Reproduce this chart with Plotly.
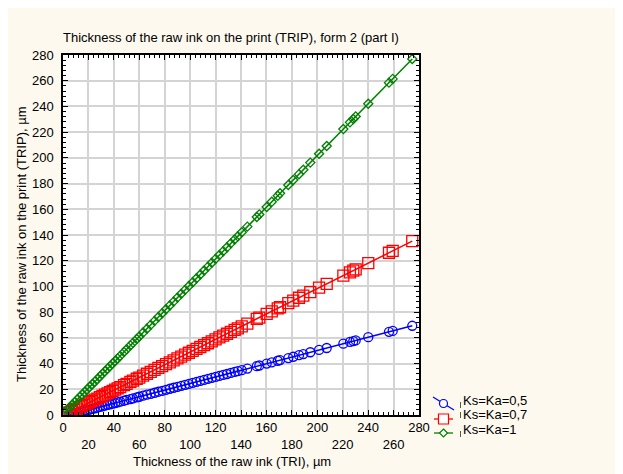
import plotly.graph_objects as go

title_text = "Thickness of the raw ink on the print (TRIP), form 2 (part I)"
x_title = "Thickness of the raw ink (TRI), µm"
y_title = "Thickness of the raw ink on the print (TRIP), µm"

series_names = ["Ks=Ka=0,5", "Ks=Ka=0,7", "Ks=Ka=1"]

tri = [1, 3, 5, 7, 9, 11, 13, 15, 17, 19, 21, 23, 25, 27, 29, 31, 33, 35, 37, 39,
       41, 43, 45, 48, 50, 53, 55, 58, 60, 63, 66, 69, 72, 75, 78, 81, 84, 87, 90, 93,
       96, 99, 102, 105, 108, 111, 114, 117, 120, 123, 126, 129, 132, 135, 137.5,
       140.6, 145.0, 152.4, 154.4, 160.2, 164.2, 168.9, 170.7, 177.2, 181.1, 185.6,
       189.0, 194.5, 201.4, 207.4, 220.5, 225.7, 228.3, 230.2, 240.1, 256.4, 259.3, 274.7]

trip_05 = [None, None, 0.1, 0.6, 1.1, 1.6, 2.1, 2.7, 3.2, 3.7, 4.2, 4.7, 5.2, 5.7, 6.3,
           6.8, 7.3, 7.8, 8.3, 8.8, 9.3, 9.8, 10.4, 11.1, 11.7, 12.4, 12.9, 13.7, 14.2,
           15.0, 15.8, 16.5, 17.3, 18.1, 18.8, 19.6, 20.4, 21.2, 21.9, 22.7, 23.5, 24.2,
           25.0, 25.8, 26.6, 27.3, 28.1, 28.9, 29.6, 30.4, 31.2, 31.9, 32.7, 33.5, 34.1,
           34.9, 36.1, 38.0, 38.5, 40.0, 41.0, 42.2, 42.7, 44.3, 45.3, 46.5, 47.4, 48.8,
           50.6, 52.1, 55.5, 56.8, 57.5, 58.0, 60.5, 64.7, 65.4, 69.4]

trip_07 = [None, 1.0, 2.0, 3.0, 4.0, 4.9, 5.9, 6.9, 7.9, 8.9, 9.9, 10.9, 11.9, 12.8, 13.8,
           14.8, 15.8, 16.8, 17.8, 18.8, 19.8, 20.7, 21.7, 23.2, 24.2, 25.7, 26.7, 28.2,
           29.1, 30.6, 32.1, 33.6, 35.1, 36.6, 38.0, 39.5, 41.0, 42.5, 44.0, 45.4, 46.9,
           48.4, 49.9, 51.4, 52.9, 54.3, 55.8, 57.3, 58.8, 60.3, 61.7, 63.2, 64.7, 66.2,
           67.4, 69.0, 71.1, 74.8, 75.8, 78.6, 80.6, 82.9, 83.8, 87.0, 89.0, 91.2, 92.9,
           95.6, 99.0, 102.0, 108.4, 111.0, 112.3, 113.2, 118.1, 126.2, 127.6, 135.2]

trip_1 = [1.8, 3.8, 5.8, 7.8, 9.8, 11.9, 13.9, 15.9, 17.9, 19.9, 21.9, 23.9, 25.9, 27.9,
          30.0, 32.0, 34.0, 36.0, 38.0, 40.0, 42.0, 44.0, 46.0, 49.0, 51.1, 54.1, 56.1,
          59.1, 61.1, 64.1, 67.1, 70.1, 73.2, 76.2, 79.2, 82.2, 85.2, 88.2, 91.3, 94.3,
          97.3, 100.3, 103.3, 106.3, 109.3, 112.4, 115.4, 118.4, 121.4, 124.4, 127.4,
          130.4, 133.5, 136.5, 139.0, 142.1, 146.5, 154.0, 156.0, 161.8, 165.8, 170.5,
          172.4, 178.9, 182.8, 187.3, 190.7, 196.3, 203.2, 209.2, 222.4, 227.6, 230.2,
          232.2, 242.1, 258.5, 261.4, 276.9]

major_ticks = [0, 20, 40, 60, 80, 100, 120, 140, 160, 180, 200, 220, 240, 260, 280]
x_tick_text = [str(v) if i % 2 == 0 else "<br>" + str(v) for i, v in enumerate(major_ticks)]
y_tick_text = [str(v) for v in major_ticks]

# page has an 8px body margin, so the figure starts at (8, 8) in the window
OFF = 8
W, H = 623 - OFF, 474 - OFF
PAPER = "#fdf9ee"
font_family = "Liberation Sans, Arial, sans-serif"


def px(x):
    """page pixel x -> paper fraction"""
    return (x - OFF) / W


def py(y):
    """page pixel y -> paper fraction"""
    return 1 - (y - OFF) / H


colors = ["#0000ff", "#ff0000", "#008000"]
symbols = ["circle-open", "square-open", "diamond-open"]
sizes = [9, 11, 7]

fig = go.Figure()
for name, ys, color, symbol, size in zip(series_names, [trip_05, trip_07, trip_1],
                                         colors, symbols, sizes):
    fig.add_trace(go.Scatter(
        x=tri, y=ys, name=name, mode="lines+markers",
        line=dict(color=color, width=1.5),
        marker=dict(symbol=symbol, size=size, color=color,
                    line=dict(color=color, width=1.3)),
        showlegend=False,
    ))

axis_common = dict(
    range=[0, 280], tickmode="array", tickvals=major_ticks,
    showgrid=True, gridcolor="#d4d4d4", gridwidth=1.5,
    showline=True, linecolor="black", linewidth=1.5, mirror="allticks",
    ticks="inside", ticklen=5, tickcolor="black", tickwidth=1,
    minor=dict(ticks="inside", dtick=4, ticklen=3, tickcolor="black", showgrid=False),
    zeroline=False, automargin=False,
    tickfont=dict(family=font_family, size=13, color="black"),
)

fig.update_xaxes(**axis_common, ticktext=x_tick_text,
                 domain=[px(63), px(419)], ticklabelstandoff=0)
fig.update_yaxes(**axis_common, ticktext=y_tick_text,
                 domain=[py(415), py(55)], ticklabelstandoff=5)

shapes = []
# hand-drawn legend samples
leg_y = [401, 419, 433]
for i, (color, yy) in enumerate(zip(colors, leg_y)):
    if i == 0:
        shapes.append(dict(type="line", xref="paper", yref="paper", layer="above",
                           x0=px(433), y0=py(397), x1=px(454), y1=py(410),
                           line=dict(color=color, width=1.3)))
        cx, cy = 443.5, 403.5
        shapes.append(dict(type="circle", xref="paper", yref="paper", layer="above",
                           x0=px(cx - 4), x1=px(cx + 4), y0=py(cy + 4), y1=py(cy - 4),
                           fillcolor="white", line=dict(color=color, width=1.2)))
    else:
        shapes.append(dict(type="line", xref="paper", yref="paper", layer="above",
                           x0=px(434), y0=py(yy), x1=px(453), y1=py(yy),
                           line=dict(color=color, width=1.3)))
        cx = 443.5
        if i == 1:
            shapes.append(dict(type="rect", xref="paper", yref="paper", layer="above",
                               x0=px(cx - 5), x1=px(cx + 5), y0=py(yy + 5), y1=py(yy - 5),
                               fillcolor="white", line=dict(color=color, width=1.2)))
        else:
            path = "M {},{} L {},{} L {},{} L {},{} Z".format(
                px(cx), py(yy - 4), px(cx + 4), py(yy), px(cx), py(yy + 4), px(cx - 4), py(yy))
            shapes.append(dict(type="path", xref="paper", yref="paper", layer="above",
                               path=path, fillcolor="white",
                               line=dict(color=color, width=1.2)))
# small vertical marks before legend labels
for y0, y1 in [(402, 408), (412, 418), (431, 437)]:
    shapes.append(dict(type="line", xref="paper", yref="paper", layer="above",
                       x0=px(460.5), x1=px(460.5), y0=py(y0), y1=py(y1),
                       line=dict(color="#555555", width=1)))

annotations = [
    dict(text=title_text, xref="paper", yref="paper", x=px(61), y=py(38),
         xanchor="left", yanchor="middle", showarrow=False,
         font=dict(family=font_family, size=13, color="black")),
    dict(text=x_title, xref="paper", yref="paper", x=px(232), y=py(461),
         xanchor="center", yanchor="middle", showarrow=False,
         font=dict(family=font_family, size=13, color="black")),
    dict(text=y_title, xref="paper", yref="paper", x=px(21), y=py(244),
         xanchor="center", yanchor="middle", showarrow=False, textangle=-90,
         font=dict(family=font_family, size=13, color="black")),
]
for name, yy in zip(series_names, [400, 414, 429]):
    annotations.append(dict(text=name, xref="paper", yref="paper", x=px(461), y=py(yy),
                            xanchor="left", yanchor="middle", showarrow=False,
                            font=dict(family=font_family, size=13, color="black")))

fig.update_layout(
    width=W, height=H,
    paper_bgcolor=PAPER, plot_bgcolor="white",
    margin=dict(l=0, r=0, t=0, b=0),
    showlegend=False,
    shapes=shapes, annotations=annotations,
    font=dict(family=font_family),
)

fig.write_html("out.html")
